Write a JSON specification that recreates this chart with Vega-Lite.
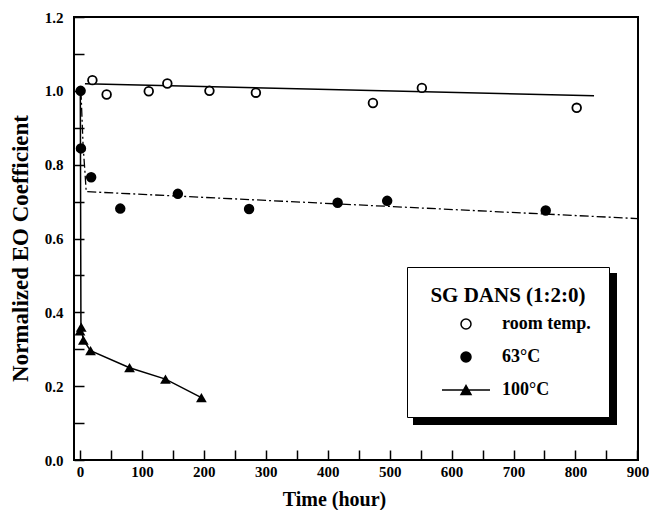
{
  "$schema": "https://vega.github.io/schema/vega-lite/v6.json",
  "width": 564,
  "height": 443,
  "autosize": {"type": "none"},
  "padding": {"left": 74, "top": 17, "right": 11, "bottom": 50},
  "background": "white",
  "config": {
    "view": {"stroke": "black", "strokeWidth": 2},
    "axis": {
      "labelFont": "Liberation Serif",
      "labelFontWeight": "bold",
      "labelFontSize": 15,
      "labelColor": "black",
      "titleFont": "Liberation Serif",
      "titleFontWeight": "bold",
      "titleColor": "black",
      "tickColor": "black",
      "tickWidth": 1.5,
      "domain": false,
      "grid": false,
      "labelFlush": false,
      "labelOverlap": false
    },
    "legend": {
      "orient": "none",
      "padding": 18,
      "titleFont": "Liberation Serif",
      "titleFontSize": 21,
      "titleFontWeight": "bold",
      "titleColor": "black",
      "titleAnchor": "middle",
      "titlePadding": 9,
      "labelFont": "Liberation Serif",
      "labelFontSize": 18,
      "labelFontWeight": "bold",
      "labelColor": "black",
      "symbolOffset": 32,
      "labelOffset": 27,
      "rowPadding": 15,
      "strokeColor": "black",
      "symbolSize": 100,
      "symbolStrokeWidth": 1.5
    }
  },
  "datasets": {
    "pts": [
      {"series": "room temp.", "t": 20, "v": 1.029},
      {"series": "room temp.", "t": 43, "v": 0.99},
      {"series": "room temp.", "t": 111, "v": 0.999},
      {"series": "room temp.", "t": 141, "v": 1.02},
      {"series": "room temp.", "t": 209, "v": 1.0},
      {"series": "room temp.", "t": 284, "v": 0.995},
      {"series": "room temp.", "t": 473, "v": 0.967},
      {"series": "room temp.", "t": 552, "v": 1.008},
      {"series": "room temp.", "t": 802, "v": 0.954},
      {"series": "63°C", "t": 1, "v": 1.0},
      {"series": "63°C", "t": 1.5, "v": 0.844},
      {"series": "63°C", "t": 18, "v": 0.766},
      {"series": "63°C", "t": 65, "v": 0.681},
      {"series": "63°C", "t": 158, "v": 0.721},
      {"series": "63°C", "t": 273, "v": 0.68},
      {"series": "63°C", "t": 416, "v": 0.697},
      {"series": "63°C", "t": 496, "v": 0.702},
      {"series": "63°C", "t": 752, "v": 0.676},
      {"series": "100°C", "t": 0, "v": 0.35},
      {"series": "100°C", "t": 2, "v": 0.36},
      {"series": "100°C", "t": 5.4, "v": 0.325},
      {"series": "100°C", "t": 17, "v": 0.296},
      {"series": "100°C", "t": 80, "v": 0.25},
      {"series": "100°C", "t": 138, "v": 0.219},
      {"series": "100°C", "t": 196, "v": 0.169}
    ],
    "fits": [
      {"series": "room temp.", "t": 8, "v": 1.019},
      {"series": "room temp.", "t": 830, "v": 0.987},
      {"series": "63°C", "t": 1.5, "v": 1.0},
      {"series": "63°C", "t": 5, "v": 0.85},
      {"series": "63°C", "t": 8, "v": 0.78},
      {"series": "63°C", "t": 10, "v": 0.727},
      {"series": "63°C", "t": 900, "v": 0.654},
      {"series": "100°C", "t": 0.5, "v": 1.0},
      {"series": "100°C", "t": 1.5, "v": 0.36},
      {"series": "100°C", "t": 5.4, "v": 0.325},
      {"series": "100°C", "t": 17, "v": 0.296},
      {"series": "100°C", "t": 80, "v": 0.25},
      {"series": "100°C", "t": 138, "v": 0.219},
      {"series": "100°C", "t": 196, "v": 0.169}
    ]
  },
  "encoding": {
    "x": {
      "field": "t",
      "type": "quantitative",
      "scale": {"domain": [-9.7, 901], "nice": false, "zero": false},
      "axis": {
        "orient": "bottom",
        "title": "Time (hour)",
        "titleFontSize": 20,
        "titlePadding": 10,
        "titleX": 260,
        "values": [0, 50, 100, 150, 200, 250, 300, 350, 400, 450, 500, 550, 600, 650, 700, 750, 800, 850, 900],
        "labelExpr": "datum.value % 100 === 0 ? datum.label : ''",
        "tickSize": -10,
        "labelPadding": 14,
        "encode": {"ticks": {"update": {"y2": {"signal": "datum.value % 100 === 0 ? -10 : -6"}}}}
      }
    },
    "y": {
      "field": "v",
      "type": "quantitative",
      "scale": {"domain": [0, 1.2], "nice": false, "zero": false},
      "axis": {
        "orient": "left",
        "title": "Normalized EO Coefficient",
        "titleFontSize": 23,
        "titlePadding": 12,
        "titleY": 231,
        "format": ".1f",
        "values": [0, 0.1, 0.2, 0.3, 0.4, 0.5, 0.6, 0.7, 0.8, 0.9, 1.0, 1.1, 1.2],
        "labelExpr": "round(datum.value * 10) % 2 === 0 ? datum.label : ''",
        "tickSize": -10,
        "labelPadding": 21,
        "encode": {"ticks": {"update": {"x2": {"signal": "round(datum.value * 10) % 2 === 0 ? 10 : 6"}}}}
      }
    }
  },
  "layer": [
    {
      "data": {"name": "fits"},
      "transform": [{"filter": "datum.series !== '63°C'"}],
      "mark": {"type": "line", "strokeWidth": 1.5},
      "encoding": {
        "color": {
          "field": "series",
          "type": "nominal",
          "scale": {"domain": ["100°C", "63°C", "room temp."], "range": ["black", "black", "black"]},
          "legend": {
            "title": " ",
            "labelExpr": "' '",
            "labelOffset": 116,
            "fillColor": "black",
            "legendX": 340,
            "legendY": 257,
            "zindex": 1,
            "encode": {"legend": {"update": {"strokeWidth": {"value": 2}}}}
          }
        }
      }
    },
    {
      "data": {"name": "fits"},
      "transform": [{"filter": "datum.series === '63°C'"}],
      "mark": {"type": "line", "strokeWidth": 1.3, "strokeDash": [9, 3, 2, 3], "color": "black"},
      "encoding": {}
    },
    {
      "data": {"name": "pts"},
      "transform": [{"filter": "datum.series === '100°C'"}],
      "mark": {"type": "point", "shape": "triangle-up", "filled": true, "color": "black", "size": 115, "opacity": 1},
      "encoding": {}
    },
    {
      "data": {"name": "pts"},
      "transform": [{"filter": "datum.series !== '100°C'"}],
      "mark": {"type": "point", "filled": true, "stroke": "black", "strokeWidth": 1.8, "size": 75, "opacity": 1},
      "encoding": {
        "fill": {
          "field": "series",
          "type": "nominal",
          "scale": {"domain": ["room temp.", "63°C", "100°C"], "range": ["white", "black", "black"]},
          "legend": {
            "title": "SG DANS (1:2:0)",
            "fillColor": "white",
            "legendX": 333,
            "legendY": 250,
            "zindex": 2,
            "encode": {"legend": {"update": {"strokeWidth": {"value": 2}}}}
          }
        },
        "shape": {
          "field": "series",
          "type": "nominal",
          "scale": {"domain": ["room temp.", "63°C", "100°C"], "range": ["circle", "circle", "M-4.8,0H4.8M-1,0.9L0,-0.9L1,0.9Z"]}
        }
      }
    }
  ]
}
